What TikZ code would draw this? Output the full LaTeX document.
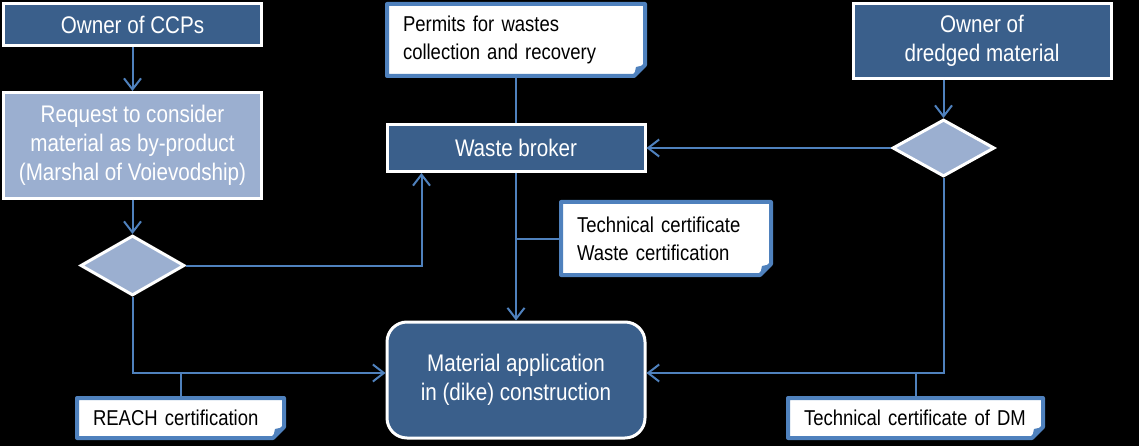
\documentclass[tikz,border=0pt]{standalone}
\usepackage{fontspec}
\setmainfont[FakeStretch=0.86]{Liberation Sans}
\usetikzlibrary{shapes.geometric,arrows.meta}
\definecolor{darkbl}{RGB}{58,95,139}
\definecolor{lightbl}{RGB}{155,175,208}
\definecolor{linebl}{RGB}{79,129,189}
\begin{document}
\begin{tikzpicture}[x=1pt, y=-1pt,
  box/.style = {draw=white, line width=3pt, fill=darkbl, text=white, align=center, minimum width=258pt, inner sep=0pt, font=\fontsize{24}{29}\selectfont},
  dia/.style = {diamond, draw=white, line width=3pt, fill=lightbl, inner sep=0pt},
  note/.style = {fill=white, outer sep=0pt, inner xsep=16pt, inner ysep=0pt, align=left, font=\fontsize{21.5}{28}\selectfont},
  arr/.style = {draw=linebl, line width=2pt, -{Straight Barb[length=11pt,width=17pt]}},
  con/.style = {draw=linebl, line width=2pt}]
  \fill[black] (0,0) rectangle (1139,446);
  \node[box, minimum height=42pt] (ccp) at (132.5,25) {Owner of CCPs};
  \node[box, fill=lightbl, minimum height=106pt] (req) at (132.5,145.5) {Request to consider\\material as by-product\\(Marshal of Voievodship)};
  \node[dia, minimum width=104pt, minimum height=60pt] (d1) at (132.5,265.5) {};
  \node[box, minimum height=47pt] (broker) at (516,148) {Waste broker};
  \node[box, rounded corners=20pt, minimum height=116pt] (mat) at (516,380) {Material application\\in (dike) construction};
  \node[box, minimum height=75pt] (own) at (982,41) {Owner of\\dredged material};
  \node[dia, minimum width=102pt, minimum height=57pt] (d2) at (943.5,148) {};
  \node[note, text width=226pt, minimum height=72pt] (permits) at (516,40) {Permits for wastes\\collection and recovery};
  \node[note, text width=178pt, minimum height=73pt] (tech) at (666,238.5) {Technical certificate\\Waste certification};
  \node[note, text width=175pt, minimum height=40pt] (reach) at (180.5,418) {REACH certification};
  \node[note, text width=223pt, minimum height=40pt] (dmc) at (915.5,418) {Technical certificate of DM};
  % folded corners of the notes
  \foreach \n in {permits,tech,reach,dmc}{
    \fill[black] ([shift={(1,1)}]\n.south east) -- ++(-15,0) -- ++(15,-15) -- cycle;
    \draw[linebl, line width=4pt, line join=round] (\n.north west) -- (\n.north east) -- ([shift={(0,-11)}]\n.south east) -- ([shift={(-11,0)}]\n.south east) -- (\n.south west) -- cycle;
    \fill[linebl] ([shift={(0,-11)}]\n.south east) -- ([shift={(-11,0)}]\n.south east) -- ([shift={(-9,-9)}]\n.south east) -- cycle;
  }
  \coordinate (lvl) at (516,373);
  \draw[arr] (ccp) -- (req);
  \draw[arr] (req) -- (d1);
  \draw[arr] (d1.east) -| ([xshift=36pt]broker.south west);
  \draw[con] (permits) -- (broker);
  \draw[arr] (broker) -- (mat);
  \draw[con] (tech.west) -- (tech.west -| broker.south);
  \draw[arr] (d2.north |- own.south) -- (d2.north);
  \draw[arr] (d2) -- (broker);
  \draw[arr] (d1.south) |- (lvl -| mat.west);
  \draw[arr] (d2.south) |- (lvl -| mat.east);
  \draw[con] (reach.north) -- (reach.north |- lvl);
  \draw[con] (dmc.north) -- (dmc.north |- lvl);
\end{tikzpicture}
\end{document}
